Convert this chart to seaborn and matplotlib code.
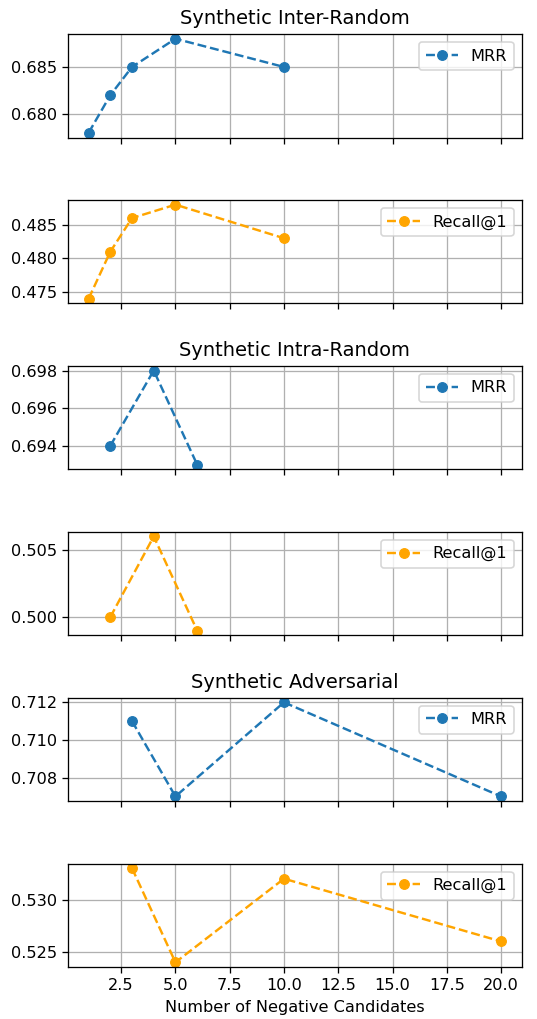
import matplotlib
matplotlib.use("Agg")
import matplotlib.pyplot as plt
import seaborn as sns

# data
inter_x = [1, 2, 3, 5, 10]
inter_mrr = [0.678, 0.682, 0.685, 0.688, 0.685]
inter_recall = [0.474, 0.481, 0.486, 0.488, 0.483]

intra_x = [2, 4, 6]
intra_mrr = [0.694, 0.698, 0.693]
intra_recall = [0.500, 0.506, 0.499]

adv_x = [3, 5, 10, 20]
adv_mrr = [0.711, 0.707, 0.712, 0.707]
adv_recall = [0.533, 0.524, 0.532, 0.526]

datasets = [
    ("Synthetic Inter-Random", inter_x, inter_mrr, inter_recall),
    ("Synthetic Intra-Random", intra_x, intra_mrr, intra_recall),
    ("Synthetic Adversarial", adv_x, adv_mrr, adv_recall),
]

DPI = 116
fig, axes = plt.subplots(6, 1, figsize=(537 / DPI, 1019 / DPI), dpi=DPI, sharex=True)

for i, (title, x, mrr, recall) in enumerate(datasets):
    ax_m = axes[2 * i]
    ax_r = axes[2 * i + 1]

    # MRR
    sns.lineplot(x=x, y=mrr, ax=ax_m, marker='o', linestyle='--', color='#1f77b4',
                 markeredgecolor='#1f77b4', label='MRR')
    ax_m.set_title(title)
    ax_m.legend(loc='upper right')
    ax_m.grid(True)

    # Recall@1
    sns.lineplot(x=x, y=recall, ax=ax_r, marker='o', linestyle='--', color='orange',
                 markeredgecolor='orange', label='Recall@1')
    ax_r.legend(loc='upper right')
    ax_r.grid(True)

for ax in axes:
    ax.set_xlabel('')
    ax.set_ylabel('')
axes[-1].set_xlabel('Number of Negative Candidates')

plt.subplots_adjust(left=0.1266, right=0.9715, top=0.9666, bottom=0.051, hspace=0.603)
plt.savefig('out.png', dpi=DPI)
